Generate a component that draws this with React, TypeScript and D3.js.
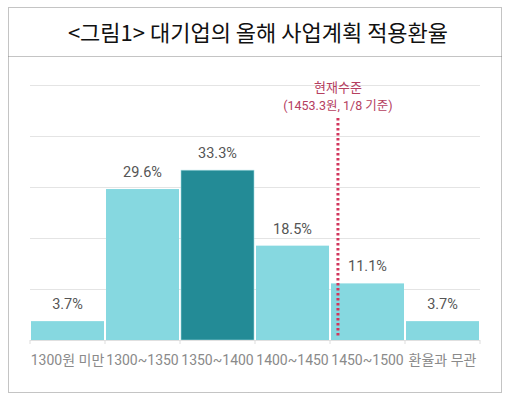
import { useRef, useEffect } from 'react';
import * as d3 from 'd3';

const categories: string[] = ['1300원 미만', '1300~1350', '1350~1400', '1400~1450', '1450~1500', '환율과 무관'];
const shares: number[] = [3.7, 29.6, 33.3, 18.5, 11.1, 3.7];
const highlight = '1350~1400';
const yTicks: number[] = [0, 10, 20, 30, 40, 50];
const rateBands: number[] = [1450, 1500];
const currentRate = 1453.3;

export default function App() {
  const ref = useRef<SVGSVGElement | null>(null);

  useEffect(() => {
    if (!ref.current) return;
    const width = 509;
    const height = 401;
    const left = 30, right = 480, top = 85, bottom = 340;

    const svg = d3.select(ref.current);
    svg.selectAll('*').remove();
    svg.attr('width', width).attr('height', height);

    const font = "Roboto, 'Noto Sans CJK KR', sans-serif";
    const krFont = "'Noto Sans CJK KR', sans-serif";

    // frame
    svg.append('rect')
      .attr('x', 8.5).attr('y', 7.5).attr('width', 493).attr('height', 385)
      .attr('fill', 'white').attr('stroke', '#888').attr('stroke-width', 1)
      .attr('stroke-dasharray', '1,1');
    svg.append('line')
      .attr('x1', 8.5).attr('x2', 501.5).attr('y1', 56.5).attr('y2', 56.5)
      .attr('stroke', '#888').attr('stroke-dasharray', '1,1');

    svg.append('text')
      .attr('x', 258).attr('y', 41)
      .attr('text-anchor', 'middle')
      .attr('font-family', krFont)
      .attr('font-size', '22px')
      .attr('font-weight', 400)
      .attr('fill', '#111')
      .text('<그림1> 대기업의 올해 사업계획 적용환율');

    const x = d3.scaleBand<string>().domain(categories).range([left, right]);
    const y = d3.scaleLinear().domain([0, 50]).range([bottom, top]);

    // gridlines
    svg.selectAll('line.grid')
      .data(yTicks.filter(t => t > 0))
      .enter().append('line')
      .attr('x1', left).attr('x2', right)
      .attr('y1', d => y(d) + 0.5).attr('y2', d => y(d) + 0.5)
      .attr('stroke', '#e4e4e4').attr('stroke-width', 1.2);

    // bars
    svg.selectAll('rect.bar')
      .data(shares)
      .enter().append('rect')
      .attr('x', (_, i) => (x(categories[i]) || 0) + 1)
      .attr('y', d => y(d))
      .attr('width', x.bandwidth() - 2)
      .attr('height', d => bottom - y(d))
      .attr('fill', (_, i) => categories[i] === highlight ? '#238b96' : '#86d8e0')
      .attr('stroke', (_, i) => categories[i] === highlight ? '#9fdbe0' : 'none')
      .attr('stroke-width', 0.6);

    // baseline and ticks
    svg.append('line')
      .attr('x1', left).attr('x2', right)
      .attr('y1', bottom + 0.5).attr('y2', bottom + 0.5)
      .attr('stroke', '#e0e0e0').attr('stroke-width', 1.2);
    svg.selectAll('line.tick')
      .data(d3.range(categories.length + 1))
      .enter().append('line')
      .attr('x1', i => left + i * x.bandwidth()).attr('x2', i => left + i * x.bandwidth())
      .attr('y1', bottom).attr('y2', bottom + 4)
      .attr('stroke', '#ddd');

    // value labels
    svg.selectAll('text.val')
      .data(shares)
      .enter().append('text')
      .attr('x', (_, i) => (x(categories[i]) || 0) + x.bandwidth() / 2)
      .attr('y', d => y(d) - 12)
      .attr('text-anchor', 'middle')
      .attr('font-family', font)
      .attr('font-size', '14.5px')
      .attr('fill', '#555')
      .text(d => d.toFixed(1) + '%');

    // category labels
    svg.selectAll('text.cat')
      .data(categories)
      .enter().append('text')
      .attr('x', d => (x(d) || 0) + x.bandwidth() / 2)
      .attr('y', 365)
      .attr('text-anchor', 'middle')
      .attr('font-family', font)
      .attr('font-size', '14px')
      .attr('fill', '#8a8a8a')
      .text(d => d);

    // current rate marker
    const bandStart = x('1450~1500') || 0;
    const rx = d3.scaleLinear().domain(rateBands).range([bandStart, bandStart + x.bandwidth()]);
    const cx = rx(currentRate) + 3;
    svg.append('line')
      .attr('x1', cx).attr('x2', cx)
      .attr('y1', 118).attr('y2', bottom - 2)
      .attr('stroke', '#d2355c').attr('stroke-width', 3)
      .attr('stroke-dasharray', '2.5,2.5');
    svg.append('text')
      .attr('x', cx).attr('y', 92)
      .attr('text-anchor', 'middle')
      .attr('font-family', krFont)
      .attr('font-size', '13px')
      .attr('fill', '#b5405f')
      .text('현재수준');
    svg.append('text')
      .attr('x', cx).attr('y', 110)
      .attr('text-anchor', 'middle')
      .attr('font-family', font)
      .attr('font-size', '12.5px')
      .attr('fill', '#b5405f')
      .text('(1453.3원, 1/8 기준)');
  }, []);

  return (
    <div>
      <svg ref={ref} style={{ position: 'absolute', left: 0, top: 0 }}></svg>
    </div>
  );
}
